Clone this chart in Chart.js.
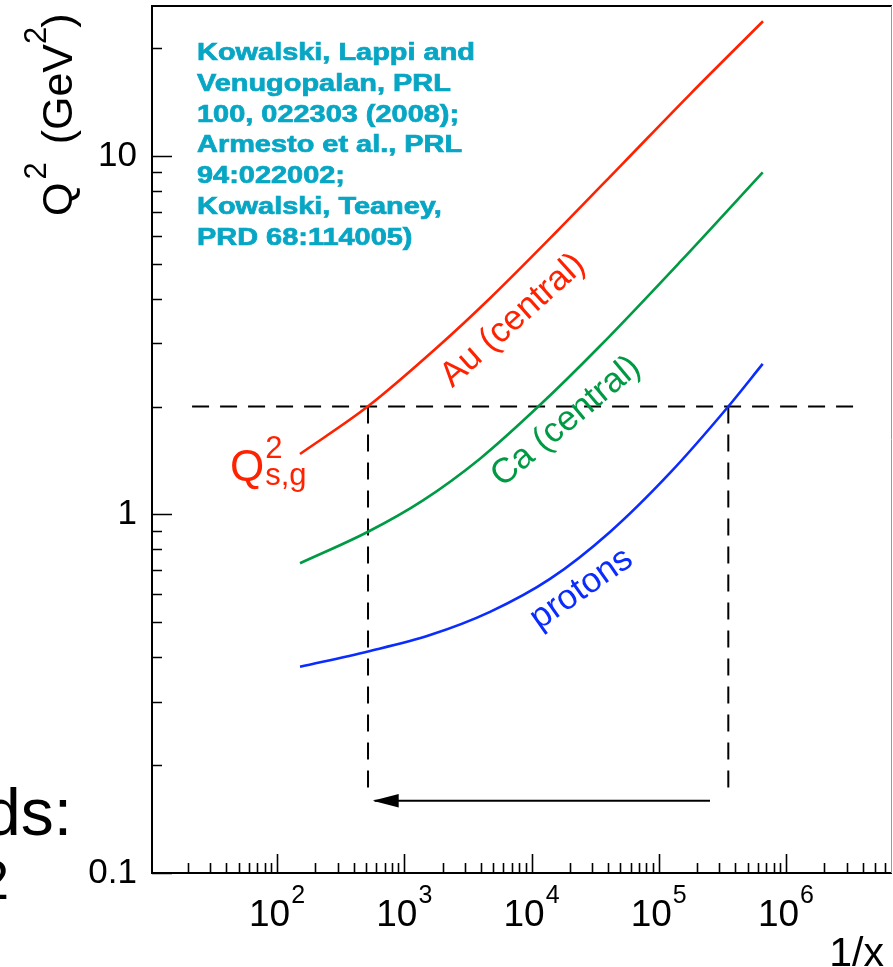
<!DOCTYPE html>
<html>
<head>
<meta charset="utf-8">
<script src="https://cdn.jsdelivr.net/npm/chart.js@4.4.1/dist/chart.umd.min.js"></script>
<style>
  html, body { margin: 0; padding: 0; background: #fff; }
  #wrap { position: relative; width: 893px; height: 967px; }
</style>
</head>
<body>
<div id="wrap"><canvas id="satChart" width="893" height="967"></canvas></div>
<script>
// saturation scale Q_s^2 (GeV^2) against 1/x
var auX  = [151.6, 519, 1809, 4719, 15860, 52380, 176000, 659800];
var auQ2 = [1.475, 2.003, 2.922, 4.01, 6.166, 9.54, 14.86, 23.75];

var caX  = [151.6, 519, 1404, 3939, 11310, 34540, 146900, 656100];
var caQ2 = [0.731, 0.895, 1.095, 1.431, 2.0, 2.951, 5.063, 9.006];

var protonX  = [151.6, 519, 1594, 4719, 13980, 41390, 122600, 352100, 656100];
var protonQ2 = [0.376, 0.415, 0.461, 0.535, 0.661, 0.894, 1.306, 2.001, 2.63];

// guide lines: Q^2 = 2 GeV^2 reached by Au and by protons
var refQ2 = 2;
var refLineX = [21.5, 3.82e6];
var auCrossX = 519;
var protonCrossX = 352100;
var dropQ2 = 0.168;
var arrowQ2 = 0.159;
var arrowFromX = 252800;
var arrowToX = 565;

// axes
var xMin = 10.41, xMax = 6.81e6;
var yMin = 0.1, yMax = 26.2;
var xMajor = [1e2, 1e3, 1e4, 1e5, 1e6];
var xExponents = ['2', '3', '4', '5', '6'];
var yMajor = [0.1, 1, 10];
var yTickLabels = ['0.1', '1', '10'];
var mantissas = [1, 2, 3, 4, 5, 6, 7, 8, 9];

var FONT = '"Liberation Sans", Arial, Helvetica, sans-serif';
var RED = '#ff2200', GREEN = '#009a44', BLUE = '#0a2cff', TEAL = '#07a6c4';

function logTicks(min, max) {
    var out = [];
    for (var e = Math.floor(Math.log10(min)); e <= Math.ceil(Math.log10(max)); e++) {
        mantissas.forEach(function (m) {
            var v = m * Math.pow(10, e);
            if (v >= min * 0.999 && v <= max) out.push(v);
        });
    }
    return out;
}
var xTickValues = logTicks(xMin, xMax);
var yTickValues = logTicks(yMin, yMax);

function isMajor(v) {
    var l = Math.log10(v);
    return Math.abs(l - Math.round(l)) < 1e-6;
}

function pairs(xs, ys) {
    return xs.map(function (x, i) { return { x: x, y: ys[i] }; });
}

function curve(xs, ys, color) {
    return {
        data: pairs(xs, ys),
        borderColor: color,
        borderWidth: 2.6,
        pointRadius: 0,
        fill: false,
        cubicInterpolationMode: 'monotone'
    };
}

function guide(points, dash) {
    return {
        data: points,
        borderColor: '#000',
        borderWidth: 2,
        borderDash: dash,
        pointRadius: 0,
        fill: false,
        tension: 0
    };
}

var curveLabels = [
    { text: 'Au (central)', x: 7154, y: 3.476, angle: 42, color: RED },
    { text: 'Ca (central)', x: 18670, y: 1.817, angle: 40, color: GREEN },
    { text: 'protons', x: 24720, y: 0.6198, angle: 35, color: BLUE }
];

var citation = [
    'Kowalski, Lappi and',
    'Venugopalan, PRL',
    '100, 022303 (2008);',
    'Armesto et al., PRL',
    '94:022002;',
    'Kowalski, Teaney,',
    'PRD 68:114005)'
];

// writes base/sup/sub runs left to right, returns end x
function runs(ctx, parts, x, y) {
    parts.forEach(function (p) {
        ctx.font = p.font;
        ctx.fillText(p.t, x, y + (p.dy || 0));
        x += ctx.measureText(p.t).width + (p.gap || 0);
    });
    return x;
}

var decorations = {
    id: 'decorations',
    afterDraw: function (chart) {
        var ctx = chart.ctx;
        var xs = chart.scales.x, ys = chart.scales.y;
        var a = chart.chartArea;
        ctx.save();

        // frame
        ctx.strokeStyle = '#000';
        ctx.lineWidth = 2;
        ctx.beginPath();
        ctx.moveTo(a.right, a.top);
        ctx.lineTo(a.left, a.top);
        ctx.lineTo(a.left, a.bottom);
        ctx.lineTo(a.right, a.bottom);
        ctx.stroke();
        ctx.strokeStyle = '#9a9a9a';
        ctx.lineWidth = 1;
        ctx.beginPath();
        ctx.moveTo(a.right - 0.5, a.top);
        ctx.lineTo(a.right - 0.5, a.bottom);
        ctx.stroke();

        // inward ticks
        ctx.strokeStyle = '#000';
        ctx.lineWidth = 1.6;
        ctx.beginPath();
        yTickValues.forEach(function (v) {
            var py = Math.round(ys.getPixelForValue(v)) + 0.5;
            ctx.moveTo(a.left, py);
            ctx.lineTo(a.left + (isMajor(v) ? 20 : 10), py);
        });
        xTickValues.forEach(function (v) {
            var px = Math.round(xs.getPixelForValue(v)) + 0.5;
            ctx.moveTo(px, a.bottom);
            ctx.lineTo(px, a.bottom - (isMajor(v) ? 19 : 10));
        });
        ctx.stroke();

        // x tick labels 10^n
        ctx.fillStyle = '#000';
        ctx.textBaseline = 'alphabetic';
        ctx.textAlign = 'left';
        xMajor.forEach(function (v, i) {
            var px = xs.getPixelForValue(v);
            ctx.font = '37px ' + FONT;
            var w1 = ctx.measureText('10').width;
            ctx.font = '25px ' + FONT;
            var w2 = ctx.measureText(xExponents[i]).width;
            var x0 = px - (w1 + w2 + 1) / 2;
            runs(ctx, [
                { t: '10', font: '37px ' + FONT, gap: 1 },
                { t: xExponents[i], font: '25px ' + FONT, dy: -23 }
            ], x0, 926);
        });

        // axis titles
        ctx.font = '41px ' + FONT;
        ctx.textAlign = 'right';
        ctx.fillText('1/x', 884, 966);
        ctx.textAlign = 'left';
        ctx.save();
        ctx.translate(72, 216);
        ctx.rotate(-Math.PI / 2);
        runs(ctx, [
            { t: 'Q', font: '43px ' + FONT, gap: 3 },
            { t: '2', font: '31px ' + FONT, dy: -26, gap: 6 },
            { t: ' (GeV', font: '43px ' + FONT, gap: 0 },
            { t: '2', font: '31px ' + FONT, dy: -26, gap: -1 },
            { t: ')', font: '43px ' + FONT }
        ], 0, 0);
        ctx.restore();

        // curve labels, anchored to data positions
        ctx.textAlign = 'center';
        ctx.textBaseline = 'middle';
        ctx.font = '35px ' + FONT;
        curveLabels.forEach(function (l) {
            ctx.save();
            ctx.translate(xs.getPixelForValue(l.x), ys.getPixelForValue(l.y));
            ctx.rotate(-l.angle * Math.PI / 180);
            ctx.fillStyle = l.color;
            ctx.fillText(l.text, 0, 0);
            ctx.restore();
        });

        // Q^2_{s,g}
        ctx.textAlign = 'left';
        ctx.textBaseline = 'alphabetic';
        ctx.fillStyle = RED;
        ctx.font = '44px ' + FONT;
        ctx.fillText('Q', 230, 481);
        var qw = ctx.measureText('Q').width;
        ctx.font = '31px ' + FONT;
        ctx.fillText('2', 230 + qw + 1, 458);
        ctx.fillText('s,g', 230 + qw + 1, 485);

        // citation block (wide bold face)
        ctx.fillStyle = TEAL;
        ctx.strokeStyle = TEAL;
        ctx.lineWidth = 0.7;
        ctx.font = 'bold 24px ' + FONT;
        citation.forEach(function (line, i) {
            ctx.save();
            ctx.translate(197, 60 + i * 30.8);
            ctx.scale(1.205, 1);
            ctx.fillText(line, 0, 0);
            ctx.strokeText(line, 0, 0);
            ctx.restore();
        });

        // arrow head
        var tipX = xs.getPixelForValue(arrowToX);
        var ay = ys.getPixelForValue(arrowQ2);
        ctx.fillStyle = '#000';
        ctx.beginPath();
        ctx.moveTo(tipX, ay);
        ctx.lineTo(tipX + 26, ay - 6.8);
        ctx.lineTo(tipX + 26, ay + 6.8);
        ctx.closePath();
        ctx.fill();

        // fragments of neighbouring slide text
        ctx.fillStyle = '#000';
        ctx.textAlign = 'right';
        ctx.font = '66px ' + FONT;
        ctx.fillText('ds:', 72, 835);
        ctx.font = '55px ' + FONT;
        ctx.fillText('2', 9, 899);

        ctx.restore();
    }
};

new Chart(document.getElementById('satChart').getContext('2d'), {
    type: 'line',
    data: {
        datasets: [
            curve(auX, auQ2, RED),
            curve(caX, caQ2, GREEN),
            curve(protonX, protonQ2, BLUE),
            guide(pairs(refLineX, [refQ2, refQ2]), [17, 11]),
            guide(pairs([auCrossX, auCrossX], [refQ2, dropQ2]), [17, 11]),
            guide(pairs([protonCrossX, protonCrossX], [refQ2, dropQ2]), [17, 11]),
            guide(pairs([arrowFromX, arrowToX + 20], [arrowQ2, arrowQ2]), [])
        ]
    },
    options: {
        responsive: false,
        animation: false,
        devicePixelRatio: 1,
        events: [],
        layout: { padding: { left: 0, top: 6, right: 1, bottom: 0 } },
        plugins: {
            legend: { display: false },
            tooltip: { enabled: false }
        },
        scales: {
            x: {
                type: 'logarithmic',
                min: xMin,
                max: xMax,
                grid: { display: false },
                border: { display: false },
                ticks: { display: false },
                afterBuildTicks: function (scale) {
                    scale.ticks = xTickValues.map(function (v) { return { value: v }; });
                },
                afterFit: function (scale) {
                    scale.height = 94;
                    scale.paddingLeft = 0;
                    scale.paddingRight = 0;
                }
            },
            y: {
                type: 'logarithmic',
                min: yMin,
                max: yMax,
                grid: { display: false, drawTicks: false },
                border: { display: false },
                ticks: {
                    autoSkip: false,
                    padding: 15,
                    color: '#000',
                    font: { family: FONT, size: 35 },
                    callback: function (value) {
                        var i = yMajor.indexOf(value);
                        return i >= 0 ? yTickLabels[i] : '';
                    }
                },
                afterBuildTicks: function (scale) {
                    scale.ticks = yTickValues.map(function (v) { return { value: v }; });
                },
                afterFit: function (scale) {
                    scale.width = 152;
                    scale.paddingTop = 0;
                    scale.paddingBottom = 0;
                }
            }
        }
    },
    plugins: [decorations]
});
</script>
</body>
</html>
